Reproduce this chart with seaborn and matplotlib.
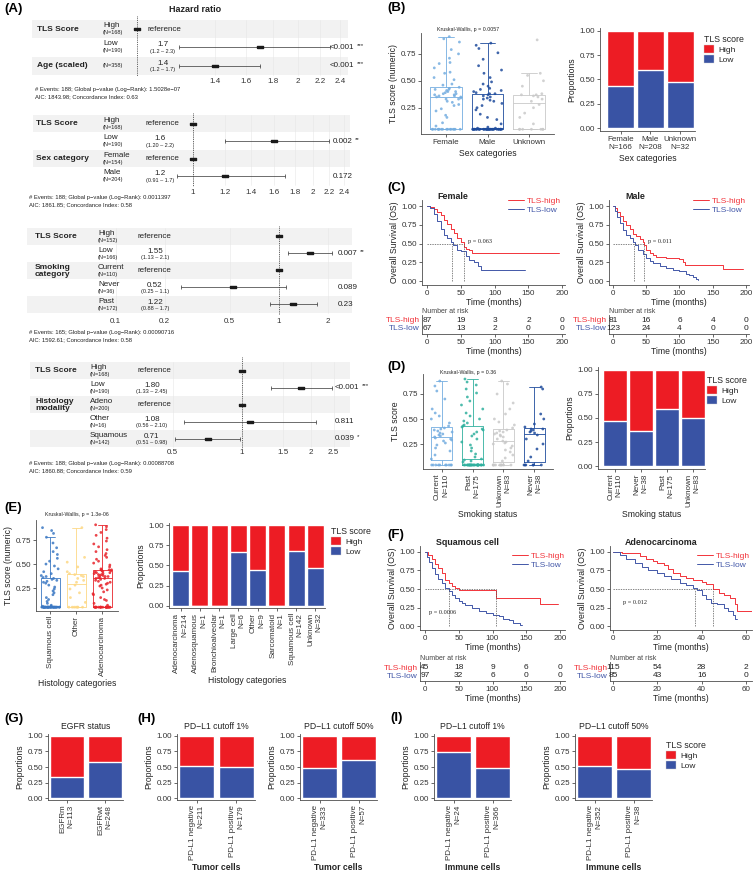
import numpy as np
import pandas as pd
import seaborn as sns
import matplotlib.pyplot as plt
from matplotlib.patches import Patch

sns.set_theme(style='ticks')
plt.rcParams['font.family'] = ['Liberation Sans', 'DejaVu Sans']
plt.rcParams.update({
    'axes.linewidth': 0.6, 'axes.edgecolor': '#4d4d4d',
    'xtick.color': '#4d4d4d', 'ytick.color': '#4d4d4d',
    'xtick.labelcolor': '#333333', 'ytick.labelcolor': '#333333',
    'xtick.major.size': 2, 'ytick.major.size': 2,
    'xtick.major.width': 0.6, 'ytick.major.width': 0.6,
    'xtick.major.pad': 1.5, 'ytick.major.pad': 1.5,
    'axes.labelsize': 6.2, 'xtick.labelsize': 5.8, 'ytick.labelsize': 5.8,
    'axes.labelpad': 2, 'axes.labelcolor': '#222222',
})

RED = '#ED1C24'
BLUE = '#3953A4'
KM_RED = '#F2333A'
KM_BLUE = '#4257A8'

# ---------------- data ----------------
# (A) Cox models: level, N, HR, CI low, CI high, HR text, CI text, p, stars
cox1_vars = ['TLS Score', None, 'Age (scaled)']
cox1_rows = [('High', '(N=168)', None, None, None, '', '', '', ''),
             ('Low', '(N=190)', 1.7, 1.2, 2.3, '1.7', '(1.2 – 2.3)', '<0.001', '***'),
             ('', '(N=358)', 1.4, 1.2, 1.7, '1.4', '(1.2 – 1.7)', '<0.001', '***')]
cox1_ticks = [1.4, 1.6, 1.8, 2, 2.2, 2.4]
cox1_footer = ['# Events: 188; Global p−value (Log−Rank): 1.5028e−07',
               'AIC: 1843.98; Concordance Index: 0.63']

cox2_vars = ['TLS Score', None, 'Sex category', None]
cox2_rows = [('High', '(N=168)', None, None, None, '', '', '', ''),
             ('Low', '(N=190)', 1.6, 1.2, 2.2, '1.6', '(1.20 – 2.2)', '0.002', '**'),
             ('Female', '(N=154)', None, None, None, '', '', '', ''),
             ('Male', '(N=204)', 1.2, 0.91, 1.7, '1.2', '(0.91 – 1.7)', '0.172', '')]
cox2_ticks = [1, 1.2, 1.4, 1.6, 1.8, 2, 2.2, 2.4]
cox2_footer = ['# Events: 188; Global p−value (Log−Rank): 0.0011397',
               'AIC: 1861.85; Concordance Index: 0.58']

cox3_vars = ['TLS Score', None, 'Smoking\ncategory', None, None]
cox3_rows = [('High', '(N=152)', None, None, None, '', '', '', ''),
             ('Low', '(N=166)', 1.55, 1.13, 2.1, '1.55', '(1.13 – 2.1)', '0.007', '**'),
             ('Current', '(N=110)', None, None, None, '', '', '', ''),
             ('Never', '(N=36)', 0.52, 0.25, 1.1, '0.52', '(0.25 – 1.1)', '0.089', ''),
             ('Past', '(N=172)', 1.22, 0.88, 1.7, '1.22', '(0.88 – 1.7)', '0.23', '')]
cox3_ticks = [0.1, 0.2, 0.5, 1, 2]
cox3_footer = ['# Events: 165; Global p−value (Log−Rank): 0.00090716',
               'AIC: 1592.61; Concordance Index: 0.58']

cox4_vars = ['TLS Score', None, 'Histology\nmodality', None, None]
cox4_rows = [('High', '(N=168)', None, None, None, '', '', '', ''),
             ('Low', '(N=190)', 1.80, 1.33, 2.45, '1.80', '(1.33 – 2.45)', '<0.001', '***'),
             ('Adeno', '(N=200)', None, None, None, '', '', '', ''),
             ('Other', '(N=16)', 1.08, 0.56, 2.10, '1.08', '(0.56 – 2.10)', '0.811', ''),
             ('Squamous', '(N=142)', 0.71, 0.51, 0.98, '0.71', '(0.51 – 0.98)', '0.039', '*')]
cox4_ticks = [0.5, 1, 1.5, 2, 2.5]
cox4_footer = ['# Events: 188; Global p−value (Log−Rank): 0.00088708',
               'AIC: 1860.88; Concordance Index: 0.59']

# (B) TLS score by sex
sex_groups = ['Female', 'Male', 'Unknown']
sex_female = [0.05, 0.05, 0.05, 0.05, 0.05, 0.05, 0.05, 0.05, 0.05, 0.05, 0.05, 0.05, 0.05, 0.05, 0.05, 0.05,
              0.08, 0.11, 0.16, 0.18, 0.22, 0.24, 0.27, 0.28, 0.30, 0.31, 0.33, 0.33, 0.34, 0.35,
              0.35, 0.36, 0.36, 0.37, 0.37, 0.38, 0.38, 0.39, 0.40, 0.40, 0.41, 0.42, 0.42, 0.43, 0.44,
              0.46, 0.47, 0.51, 0.53, 0.57, 0.58, 0.62, 0.66, 0.67, 0.71, 0.75, 0.79, 0.86, 0.89, 0.91]
sex_male = [0.05, 0.05, 0.05, 0.05, 0.05, 0.05, 0.05, 0.05, 0.05, 0.05, 0.05, 0.05, 0.05, 0.05, 0.05, 0.05,
            0.05, 0.05, 0.05, 0.05, 0.05, 0.05, 0.05, 0.05, 0.05, 0.05, 0.05, 0.05, 0.05, 0.05, 0.05, 0.05,
            0.05, 0.06, 0.06, 0.07, 0.10, 0.14, 0.16, 0.19, 0.23, 0.25, 0.27, 0.29, 0.31, 0.32, 0.33, 0.34,
            0.35, 0.36, 0.37, 0.38, 0.38, 0.39, 0.40, 0.41, 0.42, 0.43, 0.45, 0.47, 0.49, 0.53, 0.57, 0.60,
            0.64, 0.70, 0.76, 0.80, 0.83, 0.85]
sex_unknown = [0.05, 0.05, 0.05, 0.05, 0.05, 0.05, 0.05, 0.10, 0.16, 0.20, 0.25, 0.28, 0.31, 0.33,
               0.35, 0.36, 0.37, 0.37, 0.38, 0.45, 0.50, 0.55, 0.57, 0.88]
sex_colors = ['#74ADE0', '#1E4B9C', '#C9C9C9']
sex_bar_labels = ['Female\nN=166', 'Male\nN=208', 'Unknown\nN=32']
sex_low = [0.43, 0.60, 0.47]

# (C) Kaplan-Meier by sex
fem_high_t = [0, 5, 10, 15, 20, 25, 30, 35, 40, 45, 50, 55, 58, 62, 66, 195]
fem_high_s = [1.0, 0.99, 0.96, 0.92, 0.88, 0.82, 0.76, 0.70, 0.64, 0.57, 0.52, 0.46, 0.43, 0.41, 0.38, 0.38]
fem_low_t = [0, 5, 10, 15, 20, 25, 30, 35, 38, 45, 50, 58, 62, 70, 75, 80, 145]
fem_low_s = [1.0, 0.97, 0.90, 0.80, 0.70, 0.62, 0.57, 0.52, 0.48, 0.42, 0.40, 0.33, 0.28, 0.25, 0.20, 0.15, 0.15]
fem_medians = [37, 55]
male_high_t = [0, 3, 6, 10, 15, 20, 25, 30, 35, 40, 45, 47, 50, 55, 60, 65, 80, 100, 105, 108, 165, 195]
male_high_s = [1.0, 0.97, 0.92, 0.87, 0.80, 0.75, 0.69, 0.63, 0.60, 0.56, 0.52, 0.48, 0.42, 0.38, 0.35,
               0.32, 0.31, 0.30, 0.25, 0.21, 0.16, 0.16]
male_low_t = [0, 3, 6, 10, 15, 20, 25, 30, 33, 38, 45, 50, 55, 60, 70, 80, 90, 100, 110, 115, 120, 125, 128]
male_low_s = [1.0, 0.93, 0.85, 0.77, 0.68, 0.62, 0.57, 0.52, 0.48, 0.42, 0.36, 0.31, 0.27, 0.24, 0.20,
              0.17, 0.15, 0.13, 0.10, 0.08, 0.06, 0.03, 0.01]
male_medians = [32, 46]
risk_times = [0, 50, 100, 150, 200]
fem_risk_high = [87, 19, 3, 2, 0]
fem_risk_low = [67, 13, 2, 0, 0]
male_risk_high = [81, 16, 6, 4, 0]
male_risk_low = [123, 24, 4, 0, 0]

# (D) TLS score by smoking status
smoke_groups = ['Current', 'Past', 'Unknown', 'Never']
smoke_box_labels = ['Current\nN=110', 'Past\nN=175', 'Unknown\nN=83', 'Never\nN=38']
smoke_current = [0.04, 0.04, 0.04, 0.04, 0.04, 0.04, 0.04, 0.04, 0.04, 0.04,
                 0.10, 0.14, 0.18, 0.21, 0.24, 0.26, 0.28, 0.29, 0.30, 0.31,
                 0.32, 0.33, 0.34, 0.35, 0.36, 0.37, 0.38, 0.39, 0.40, 0.41,
                 0.43, 0.46, 0.50, 0.53, 0.56, 0.60, 0.70, 0.78, 0.83, 0.88]
smoke_past = [0.04, 0.04, 0.04, 0.04, 0.04, 0.04, 0.04, 0.04, 0.04, 0.04, 0.04, 0.04, 0.04, 0.04,
              0.04, 0.04, 0.04, 0.04, 0.04, 0.04, 0.04, 0.04, 0.04, 0.04, 0.04, 0.04, 0.04,
              0.07, 0.08, 0.09, 0.10, 0.12, 0.15, 0.18, 0.21, 0.24, 0.27, 0.30, 0.33, 0.35, 0.37,
              0.39, 0.40, 0.42, 0.43, 0.44, 0.46, 0.48, 0.50, 0.53, 0.56, 0.60, 0.64, 0.68, 0.72,
              0.76, 0.80, 0.84, 0.87, 0.90]
smoke_unknown = [0.04, 0.04, 0.04, 0.04, 0.04, 0.04, 0.04, 0.04, 0.04, 0.04,
                 0.08, 0.11, 0.14, 0.17, 0.19, 0.21, 0.23, 0.25, 0.26, 0.27,
                 0.28, 0.30, 0.32, 0.33, 0.34, 0.35, 0.36, 0.37, 0.38, 0.39,
                 0.41, 0.44, 0.47, 0.50, 0.55, 0.60, 0.66, 0.75, 0.85, 0.88]
smoke_never = [0.04, 0.04, 0.04, 0.04, 0.04, 0.04, 0.08, 0.12, 0.20, 0.25, 0.30, 0.34,
               0.36, 0.37, 0.38, 0.39, 0.40, 0.40, 0.42, 0.45, 0.50, 0.55, 0.80, 0.82]
smoke_colors = ['#74ADE0', '#2FB09E', '#C9C9C9', '#1E4B9C']
smoke_bar_labels = ['Current\nN=110', 'Never\nN=38', 'Past\nN=175', 'Unknown\nN=83']
smoke_low = [0.47, 0.37, 0.59, 0.50]

# (E) TLS score by histology
hist_groups = ['Squamous cell', 'Other', 'Adenocarcinoma']
hist_squamous = [0.05, 0.05, 0.05, 0.05, 0.05, 0.05, 0.05, 0.05, 0.05, 0.05, 0.05, 0.05, 0.05, 0.05,
                 0.05, 0.05, 0.05, 0.05, 0.05, 0.05, 0.05, 0.05, 0.05, 0.05, 0.05, 0.05, 0.05, 0.05,
                 0.05, 0.05, 0.05, 0.05, 0.05, 0.06, 0.06, 0.07, 0.09, 0.11, 0.13, 0.15, 0.18, 0.20,
                 0.22, 0.24, 0.26, 0.28, 0.30, 0.31, 0.32, 0.33, 0.34, 0.35, 0.36, 0.37, 0.38, 0.40,
                 0.42, 0.45, 0.48, 0.50, 0.53, 0.56, 0.60, 0.63, 0.67, 0.72, 0.78, 0.82, 0.85, 0.88]
hist_other = [0.05, 0.05, 0.05, 0.05, 0.05, 0.05, 0.05, 0.10, 0.15, 0.20, 0.24, 0.28, 0.31, 0.33,
              0.35, 0.37, 0.38, 0.39, 0.40, 0.42, 0.47, 0.52, 0.57, 0.88]
hist_adeno = [0.05, 0.05, 0.05, 0.05, 0.05, 0.05, 0.05, 0.05, 0.05, 0.05, 0.05, 0.05, 0.05, 0.05,
              0.05, 0.05, 0.05, 0.05, 0.05, 0.05, 0.05,
              0.07, 0.09, 0.12, 0.13, 0.15, 0.18, 0.19, 0.21, 0.23, 0.25, 0.27, 0.28, 0.29, 0.30,
              0.31, 0.32, 0.33, 0.34, 0.35,
              0.35, 0.36, 0.36, 0.37, 0.37, 0.38, 0.38, 0.39, 0.39, 0.40, 0.40, 0.41, 0.41, 0.42,
              0.42, 0.43, 0.43, 0.44, 0.44, 0.44,
              0.45, 0.47, 0.49, 0.51, 0.53, 0.55, 0.57, 0.59, 0.61, 0.63, 0.65, 0.68, 0.71, 0.74,
              0.77, 0.80, 0.83, 0.86, 0.89, 0.91]
hist_colors = ['#3B78C3', '#FDD884', '#E8242B']
hist_bar_labels = ['Adenocarcinoma\nN=214', 'Adenosquamous\nN=1', 'Bronchioalveolar\nN=1',
                   'Large cell\nN=6', 'Other\nN=9', 'Sarcomatoid\nN=1', 'Squamous cell\nN=142',
                   'Unknown\nN=32']
hist_low = [0.43, 0.0, 0.0, 0.67, 0.44, 0.0, 0.68, 0.47]

# (F) Kaplan-Meier by histology
sq_high_t = [0, 5, 10, 15, 20, 25, 30, 35, 40, 45, 50, 105, 170, 197]
sq_high_s = [1.0, 0.96, 0.90, 0.84, 0.78, 0.72, 0.62, 0.58, 0.54, 0.52, 0.49, 0.38, 0.30, 0.30]
sq_low_t = [0, 3, 6, 10, 15, 20, 25, 30, 35, 40, 45, 50, 55, 60, 70, 80, 90, 100, 110, 115, 125, 130, 140, 143]
sq_low_s = [1.0, 0.93, 0.86, 0.78, 0.70, 0.64, 0.58, 0.52, 0.47, 0.42, 0.38, 0.34, 0.31, 0.28, 0.24,
            0.20, 0.17, 0.15, 0.14, 0.10, 0.08, 0.04, 0.02, 0.02]
sq_medians = [35, 105]
ad_high_t = [0, 4, 8, 12, 15, 18, 20, 23, 25, 27, 30, 33, 36, 40, 42, 45, 48, 50, 53, 55, 56, 63]
ad_high_s = [1.0, 0.99, 0.98, 0.94, 0.91, 0.88, 0.85, 0.82, 0.77, 0.72, 0.68, 0.65, 0.62, 0.60, 0.57,
             0.50, 0.45, 0.42, 0.38, 0.30, 0.20, 0.20]
ad_low_t = [0, 3, 6, 10, 13, 16, 20, 23, 26, 30, 33, 36, 38, 40, 42, 44, 47, 50, 52, 54, 55, 56]
ad_low_s = [1.0, 0.96, 0.91, 0.85, 0.80, 0.76, 0.72, 0.68, 0.63, 0.58, 0.55, 0.51, 0.48, 0.42, 0.36,
            0.31, 0.30, 0.25, 0.20, 0.15, 0.10, 0.10]
ad_medians = [37, 45]
sq_risk_high = [45, 18, 9, 6, 0]
sq_risk_low = [97, 32, 6, 0, 0]
ad_risk_times = [0, 20, 40, 60]
ad_risk_high = [115, 54, 28, 2]
ad_risk_low = [85, 43, 16, 0]

# (G)-(I) proportions
egfr_labels = ['EGFRm\nN=113', 'EGFRwt\nN=248']
egfr_low = [0.34, 0.58]
tc1_labels = ['PD-L1 negative\nN=211', 'PD-L1 positive\nN=179']
tc1_low = [0.51, 0.50]
tc50_labels = ['PD-L1 negative\nN=333', 'PD-L1 positive\nN=57']
tc50_low = [0.49, 0.61]
ic1_labels = ['PD-L1 negative\nN=24', 'PD-L1 positive\nN=366']
ic1_low = [0.74, 0.49]
ic50_labels = ['PD-L1 negative\nN=352', 'PD-L1 positive\nN=38']
ic50_low = [0.52, 0.47]

# ---------------- figure ----------------
W, H = 756, 872
fig = plt.figure(figsize=(W / 100, H / 100), dpi=100)


def add_ax(l, t, r, b):
    return fig.add_axes([l / W, 1 - b / H, (r - l) / W, (b - t) / H])


ov = add_ax(0, 0, W, H)
ov.set_xlim(0, W)
ov.set_ylim(H, 0)
ov.axis('off')
ov.set_zorder(10)


def txt(x, y, s, size=6, **kw):
    kw.setdefault('va', 'center')
    kw.setdefault('color', '#222222')
    return ov.text(x, y, s, fontsize=size, **kw)


RECT = [(-1, -0.45), (1, -0.45), (1, 0.45), (-1, 0.45), (-1, -0.45)]


def forest(var_labels, rows, ticks, footer, top, row_h, band, px1, k, cols, tick_y, foot_xy, dot_top, shade):
    n = len(rows)
    bot = top + n * row_h
    ax = add_ax(band[0], dot_top, band[1], bot + 2)
    ax.set_xscale('log')
    ax.set_xlim(np.exp((band[0] - px1) / k), np.exp((band[1] - px1) / k))
    ax.set_ylim(bot + 2, dot_top)
    ax.patch.set_alpha(0)
    for sp in ax.spines.values():
        sp.set_visible(False)
    for i in shade:
        ax.axhspan(top + i * row_h, top + (i + 1) * row_h, color='#f2f2f2', lw=0, zorder=0)
    for t in ticks:
        ax.plot([t, t], [top, bot], color='#e6e6e6', lw=0.4, zorder=0.5)
    ax.plot([1, 1], [dot_top, bot + 2], ls=(0, (1, 1.2)), color='#333333', lw=0.6)
    var_x, lvl_x, ref_x, est_x, p_x = cols
    for i, (lvl, nn, hr, lo, hi, est, ci, p, st) in enumerate(rows):
        yc = top + (i + 0.5) * row_h
        if lvl:
            txt(lvl_x, yc - 3.5, lvl, 5.8)
            txt(lvl_x, yc + 3.5, nn, 4)
        else:
            txt(lvl_x, yc, nn, 4)
        if hr is None:
            ax.plot([1], [yc], marker=RECT, ms=4.5, color='k', ls='none')
            txt(ref_x, yc, 'reference', 5.8)
        else:
            ax.errorbar([hr], [yc], xerr=[[hr - lo], [hi - hr]], fmt='none', ecolor='#333333',
                        elinewidth=0.5, capsize=1.3, capthick=0.5)
            ax.plot([hr], [yc], marker=RECT, ms=4.5, color='k', ls='none')
            txt(est_x, yc - 2.5, est, 5.8, ha='center')
            txt(est_x, yc + 4, ci, 4, ha='center')
            t = txt(p_x, yc, p, 5.8)
            if st:
                ov.annotate(st, xy=(1, 0.75), xycoords=t, xytext=(1.5, 0), textcoords='offset points',
                            fontsize=4.5, va='center', color='#222222')
    for i, v in enumerate(var_labels):
        if v:
            txt(var_x, top + (i + 0.5) * row_h, v, 6, fontweight='bold', linespacing=1.0)
    ax.set_xticks(ticks)
    ax.set_xticklabels([f'{t:g}' for t in ticks])
    ax.minorticks_off()
    ax.tick_params(axis='x', length=0, labelsize=5.8, pad=max(0, (tick_y - bot - 6) * 0.72))
    ax.set_yticks([])
    txt(foot_xy[0], foot_xy[1], footer[0], 4.2)
    txt(foot_xy[0], foot_xy[1] + 7.5, footer[1], 4.2)


forest(cox1_vars, cox1_rows, cox1_ticks, cox1_footer, 20, 18.3, (32, 348), 136.9, 232,
       (37, 103, 148, 163, 330), 82, (35, 89), 16, [0, 2])
forest(cox2_vars, cox2_rows, cox2_ticks, cox2_footer, 115, 17.5, (33, 350), 193, 173,
       (36, 103, 145, 160, 333), 193, (29, 197), 113, [0, 2])
forest(cox3_vars, cox3_rows, cox3_ticks, cox3_footer, 228, 17, (27, 352), 279, 71,
       (35, 98, 138, 155, 338), 322, (29, 332), 226, [0, 2, 4])
forest(cox4_vars, cox4_rows, cox4_ticks, cox4_footer, 362, 17, (30, 350), 242, 100,
       (35, 90, 138, 152, 335), 453, (29, 463), 357, [0, 2, 4])
txt(195, 9, 'Hazard ratio', 6.5, fontweight='bold', ha='center')


def box_strip(ax, groups, scores, colors, width, ylim, xlim):
    df = pd.DataFrame({'group': np.repeat(groups, [len(s) for s in scores]),
                       'score': np.concatenate(scores)})
    pal = dict(zip(groups, colors))
    sns.boxplot(data=df, x='group', y='score', hue='group', palette=pal, fill=False, width=width,
                linewidth=0.6, showfliers=False, legend=False, ax=ax, order=groups)
    sns.stripplot(data=df, x='group', y='score', hue='group', palette=pal, size=2.0, jitter=0.36,
                  legend=False, ax=ax, order=groups, alpha=0.85)
    ax.set_xlim(xlim)
    ax.set_ylim(ylim)
    ax.set_yticks([0.25, 0.5, 0.75])
    ax.set_yticklabels(['0.25', '0.50', '0.75'])
    sns.despine(ax=ax)


def prop_bars(ax, labels, low, width, xlim, rot=True):
    sns.barplot(x=labels, y=[1.0] * len(labels), color=RED, saturation=1, width=width,
                errorbar=None, ax=ax, order=labels)
    sns.barplot(x=labels, y=low, color=BLUE, saturation=1, width=width, errorbar=None, ax=ax, order=labels)
    ax.set_xlim(xlim)
    ax.set_ylim(-0.03, 1.03)
    ax.set_yticks([0, 0.25, 0.5, 0.75, 1.0])
    ax.set_yticklabels(['0.00', '0.25', '0.50', '0.75', '1.00'])
    ax.set_ylabel('Proportions')
    ax.set_xticks(range(len(labels)))
    if rot:
        ax.set_xticklabels(labels, rotation=90, ha='center', va='top', multialignment='right')
    else:
        ax.set_xticklabels(labels)
    sns.despine(ax=ax)


def tls_legend(x, y):
    handles = [Patch(facecolor=RED, edgecolor='#d0d0d0', lw=0.3, label='High'),
               Patch(facecolor=BLUE, edgecolor='#d0d0d0', lw=0.3, label='Low')]
    fig.legend(handles=handles, title='TLS score', loc='upper left', bbox_to_anchor=(x / W, 1 - y / H),
               frameon=False, fontsize=6, title_fontsize=6.3, handlelength=1.2, handleheight=1.0,
               labelspacing=0.15, borderpad=0, borderaxespad=0, handletextpad=0.5, alignment='left')


def km_panel(ax, curves, medians, xlim, xticks, leg_xy):
    for t, s, c, lab in curves:
        sns.lineplot(x=t, y=s, drawstyle='steps-post', color=c, lw=0.7, ax=ax, label=lab,
                     estimator=None, sort=False)
    ax.plot([0, max(medians)], [0.5, 0.5], ls=(0, (2, 1.5)), color='#555555', lw=0.5)
    for m in medians:
        ax.plot([m, m], [0, 0.5], ls=(0, (2, 1.5)), color='#555555', lw=0.5)
    ax.set_xlim(xlim)
    ax.set_ylim(-0.053, 1.08)
    ax.set_xticks(xticks)
    ax.set_yticks([0, 0.25, 0.5, 0.75, 1.0])
    ax.set_yticklabels(['0.00', '0.25', '0.50', '0.75', '1.00'])
    ax.set_ylabel('Overall Survival (OS)')
    ax.set_xlabel('Time (months)', labelpad=1)
    ax.legend(loc='upper left', bbox_to_anchor=(leg_xy[0] / W, 1 - leg_xy[1] / H),
              bbox_transform=fig.transFigure, frameon=False, fontsize=6, handlelength=1.9,
              labelspacing=0.15, borderpad=0, borderaxespad=0, handletextpad=0.35, labelcolor='linecolor')
    sns.despine(ax=ax)


def risk_table(ax, times, high, low, xlim, ylim):
    for t, a, b in zip(times, high, low):
        ax.text(t, 1, str(a), ha='center', va='center', fontsize=6, color='#222222')
        ax.text(t, 0, str(b), ha='center', va='center', fontsize=6, color='#222222')
    ax.set_xlim(xlim)
    ax.set_ylim(ylim)
    ax.set_xticks(times)
    ax.set_yticks([1, 0])
    ax.set_yticklabels(['TLS-high', 'TLS-low'], fontsize=6)
    for lab, c in zip(ax.get_yticklabels(), [KM_RED, KM_BLUE]):
        lab.set_color(c)
    ax.tick_params(axis='y', length=0)
    ax.set_xlabel('Time (months)', labelpad=1)
    ax.set_title('Number at risk', loc='left', fontsize=5, pad=1.5, color='#444444')
    sns.despine(ax=ax)


# (B)
ax = add_ax(421, 33, 554, 134)
box_strip(ax, sex_groups, [sex_female, sex_male, sex_unknown], sex_colors, 0.75, (0.006, 0.944), (-0.6, 2.6))
ax.set_xlabel('Sex categories')
ax.set_ylabel('TLS score (numeric)')
txt(468, 29, 'Kruskal-Wallis, p = 0.0057', 3.8, ha='center')
ax = add_ax(600, 28, 695, 131)
prop_bars(ax, sex_bar_labels, sex_low, 0.91, (-0.7, 2.5), rot=False)
ax.set_xlabel('Sex categories')
tls_legend(704, 35)

# (C)
ax = add_ax(422, 200, 565, 285)
km_panel(ax, [(fem_high_t, fem_high_s, KM_RED, 'TLS-high'), (fem_low_t, fem_low_s, KM_BLUE, 'TLS-low')],
         fem_medians, (-7.4, 204), risk_times, (508, 197))
txt(437, 196, 'Female', 6.4, fontweight='bold')
txt(468, 241, 'p = 0.063', 4.5, family='Liberation Serif')
ax = add_ax(609, 200, 749, 285)
km_panel(ax, [(male_high_t, male_high_s, KM_RED, 'TLS-high'), (male_low_t, male_low_s, KM_BLUE, 'TLS-low')],
         male_medians, (-6, 204.5), risk_times, (693, 197))
txt(625, 196, 'Male', 6.4, fontweight='bold')
txt(648, 241, 'p = 0.011', 4.5, family='Liberation Serif')
ax = add_ax(422, 315, 565, 334)
risk_table(ax, risk_times, fem_risk_high, fem_risk_low, (-7.4, 204), (-0.75, 1.625))
ax = add_ax(609, 315, 749, 334)
risk_table(ax, risk_times, male_risk_high, male_risk_low, (-6, 204.5), (-0.75, 1.625))

# (D)
ax = add_ax(423, 374, 553, 469)
box_strip(ax, smoke_groups, [smoke_current, smoke_past, smoke_unknown, smoke_never], smoke_colors, 0.68,
          (0.0, 0.95), (-0.6, 3.6))
ax.set_xticks(range(4))
ax.set_xticklabels(smoke_box_labels, rotation=90, ha='center', va='top', multialignment='right')
ax.set_xlabel('Smoking status')
ax.set_ylabel('TLS score')
txt(468, 372, 'Kruskal-Wallis, p = 0.36', 3.8, ha='center')
ax = add_ax(598, 367, 705, 469)
prop_bars(ax, smoke_bar_labels, smoke_low, 0.92, (-0.65, 3.47))
ax.set_xlabel('Smoking status')
tls_legend(707, 376)

# (E)
ax = add_ax(36, 520, 118, 611)
box_strip(ax, hist_groups, [hist_squamous, hist_other, hist_adeno], hist_colors, 0.73, (0.01, 0.96), (-0.55, 2.6))
ax.set_xticks(range(3))
ax.set_xticklabels(hist_groups, rotation=90, ha='center', va='top')
ax.set_xlabel('Histology categories')
ax.set_ylabel('TLS score (numeric)')
txt(77, 514, 'Kruskal-Wallis, p = 1.3e-06', 3.8, ha='center')
ax = add_ax(169, 523, 325, 608)
prop_bars(ax, hist_bar_labels, hist_low, 0.88, (-0.6, 7.5))
ax.set_xlabel('Histology categories')
tls_legend(331, 527)

# (F)
ax = add_ax(420, 546, 565, 630)
km_panel(ax, [(sq_high_t, sq_high_s, KM_RED, 'TLS-high'), (sq_low_t, sq_low_s, KM_BLUE, 'TLS-low')],
         sq_medians, (-7.4, 207.4), risk_times, (512, 552))
txt(436, 542, 'Squamous cell', 6.4, fontweight='bold')
txt(429, 612, 'p = 0.0006', 4.5, family='Liberation Serif')
ax = add_ax(610, 546, 752, 630)
km_panel(ax, [(ad_high_t, ad_high_s, KM_RED, 'TLS-high'), (ad_low_t, ad_low_s, KM_BLUE, 'TLS-low')],
         ad_medians, (-1.35, 62.7), ad_risk_times, (697, 552))
txt(625, 542, 'Adenocarcinoma', 6.4, fontweight='bold')
txt(623, 602, 'p = 0.012', 4.5, family='Liberation Serif')
ax = add_ax(420, 662, 565, 681)
risk_table(ax, risk_times, sq_risk_high, sq_risk_low, (-7.4, 207.4), (-0.556, 1.556))
ax = add_ax(610, 662, 752, 681)
risk_table(ax, ad_risk_times, ad_risk_high, ad_risk_low, (-1.35, 62.7), (-0.556, 1.556))

# (G)-(I)
small_bars = [((48, 123), egfr_labels, egfr_low, 'EGFR status', None),
              ((177, 255), tc1_labels, tc1_low, 'PD−L1 cutoff 1%', 'Tumor cells'),
              ((300, 377), tc50_labels, tc50_low, 'PD−L1 cutoff 50%', 'Tumor cells'),
              ((434, 511), ic1_labels, ic1_low, 'PD−L1 cutoff 1%', 'Immune cells'),
              ((575, 652), ic50_labels, ic50_low, 'PD−L1 cutoff 50%', 'Immune cells')]
for (l, r), labs, low, title, xlab in small_bars:
    ax = add_ax(l, 734, r, 800)
    prop_bars(ax, labs, low, 0.88, (-0.5, 1.47))
    ax.set_title(title, fontsize=6.2, pad=3.5, color='#222222')
    if xlab:
        ax.set_xlabel(xlab, fontweight='bold')
tls_legend(666, 741)

# panel letters
for lab, x, y in [('(A)', 4, 9), ('(B)', 387, 8), ('(C)', 387, 188), ('(D)', 387, 367), ('(E)', 4, 508),
                  ('(F)', 387, 535), ('(G)', 4, 719), ('(H)', 137, 719), ('(I)', 390, 718)]:
    txt(x, y, lab, 9.5, fontweight='bold', color='black')

fig.savefig('out.png', dpi=100)
